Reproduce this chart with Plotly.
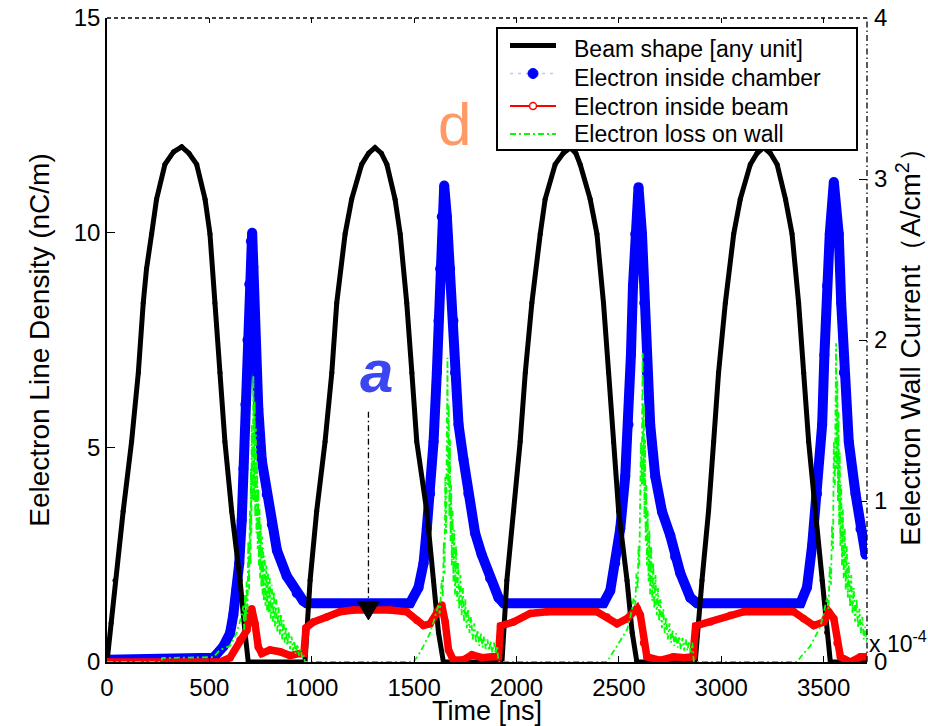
import plotly.graph_objects as go

# ---------------- data ----------------
# Beam shape [any unit] (left axis)
TIME_BEAM = [0, 20, 39, 79, 120, 153, 177, 193, 218, 242, 283, 325, 365, 400, 438, 479, 503, 527, 552, 576, 609, 650, 674, 690,
             967, 992, 1024, 1065, 1098, 1122, 1163, 1195, 1244, 1278, 1309, 1340, 1367, 1407, 1432, 1464, 1489, 1513, 1562, 1595, 1619, 1643,
             1929, 1953, 1986, 2018, 2043, 2075, 2116, 2140, 2189, 2228, 2263, 2290, 2311, 2360, 2393, 2425, 2450, 2474, 2499, 2540, 2565, 2588,
             2873, 2906, 2938, 2963, 2987, 3020, 3061, 3093, 3142, 3175, 3207, 3240, 3273, 3314, 3346, 3378, 3403, 3427, 3460, 3493, 3515, 3533,
             3712]
BEAM_SHAPE = [0, 0.9, 1.9, 3.51, 5.13, 6.74, 8.36, 9.16, 9.97, 10.78, 11.59, 11.88, 12.0, 11.85, 11.59, 10.78, 9.97, 8.36, 6.74, 5.13, 3.51, 1.9, 0.69, 0,
              0, 1.9, 3.51, 5.13, 6.74, 8.36, 9.97, 10.78, 11.59, 11.85, 11.98, 11.85, 11.59, 10.78, 9.97, 8.36, 6.74, 5.13, 3.51, 1.9, 0.69, 0,
              0, 1.9, 3.51, 5.13, 6.74, 8.36, 9.97, 10.78, 11.59, 11.85, 11.98, 11.85, 11.59, 10.78, 9.97, 8.36, 6.74, 5.13, 3.51, 1.9, 0.69, 0,
              0, 1.9, 3.51, 5.13, 6.74, 8.36, 9.97, 10.78, 11.59, 11.85, 11.98, 11.85, 11.59, 10.78, 9.97, 8.36, 6.74, 5.13, 3.51, 1.9, 0.69, 0,
              0]

# Electron inside chamber (nC/m, left axis)
TIME_CHAMBER = [0, 520, 568, 601, 617, 633, 646, 658, 666, 676, 686, 695, 703, 709, 715, 723, 739, 756, 780, 805, 830, 878, 927, 959, 975,
                1480, 1521, 1546, 1562, 1578, 1595, 1611, 1619, 1627, 1635, 1647, 1660, 1676, 1692, 1700, 1717, 1741, 1765, 1798, 1830, 1871, 1912, 1937,
                2425, 2458, 2482, 2507, 2531, 2547, 2559, 2569, 2580, 2596, 2613, 2624, 2637, 2653, 2678, 2711, 2751, 2775, 2800, 2849, 2882,
                3387, 3419, 3444, 3468, 3493, 3504, 3517, 3530, 3550, 3574, 3586, 3599, 3623, 3656, 3680, 3705]
E_CHAMBER = [0.05, 0.1, 0.36, 0.67, 1.1, 1.7, 2.3, 3.3, 4.5, 6.0, 7.5, 8.8, 9.8, 10.0, 9.2, 7.2, 5.9, 4.7, 3.9, 3.2, 2.6, 2.0, 1.6, 1.42, 1.37,
             1.37, 1.73, 2.3, 3.11, 3.92, 5.13, 6.74, 7.95, 9.16, 10.37, 11.1, 10.37, 9.16, 7.95, 6.74, 5.53, 4.72, 3.92, 3.0, 2.5, 1.95, 1.5, 1.37,
             1.37, 1.66, 2.3, 3.11, 4.32, 5.53, 7.15, 8.76, 9.97, 11.06, 9.97, 8.36, 6.74, 5.53, 4.32, 3.5, 2.95, 2.45, 2.07, 1.5, 1.37,
             1.37, 1.74, 2.71, 3.92, 5.53, 7.15, 8.76, 9.97, 11.18, 9.97, 8.36, 6.74, 5.13, 3.92, 3.1, 2.5]

# Electron inside beam (nC/m, left axis)
TIME_INBEAM = [0, 552, 601, 650, 683, 698, 707, 723, 739, 756, 796, 845, 894, 943, 962, 972, 1008, 1073, 1138, 1204, 1285, 1383, 1464,
               1513, 1546, 1578, 1611, 1635, 1652, 1668, 1692, 1741, 1782, 1831, 1880, 1912, 1922, 1985, 2067, 2149, 2393, 2442, 2491,
               2540, 2589, 2605, 2621, 2637, 2702, 2767, 2820, 2862, 2875, 2947, 3045, 3110, 3354, 3403, 3452, 3501, 3525, 3550, 3566,
               3582, 3631, 3680, 3712]
E_INBEAM = [0, 0, 0.1, 0.51, 0.74, 1.2, 1.24, 0.89, 0.35, 0.2, 0.28, 0.24, 0.15, 0.2, 0.2, 0.8, 0.93, 1.05, 1.17, 1.21, 1.22, 1.21, 1.17,
            0.97, 0.85, 0.89, 1.17, 1.33, 0.93, 0.28, 0.04, 0.05, 0.17, 0.1, 0.12, 0.12, 0.84, 0.93, 1.13, 1.17, 1.17, 1.05, 0.89,
            1.01, 1.25, 1.09, 0.44, 0.12, 0.04, 0.12, 0.1, 0.12, 0.84, 0.93, 1.09, 1.17, 1.17, 1.01, 0.85, 0.93, 1.17, 1.01, 0.44,
            0.12, 0.0, 0.12, 0.12]

# Electron loss on wall (units of 1e-4 A/cm^2, right axis) - noisy signal, read as a zig-zag band
TIME_LOSS = [0, 265, 270, 520, 552, 601, 633, 650, 660,
             666, 670, 674, 678, 682, 686, 690, 694, 698, 701, 703, 705, 707, 711, 715,
             718, 721, 724, 727, 730, 733, 736, 739, 742, 745, 748, 751, 754, 757, 760, 763, 766, 770, 774, 778, 782, 786,
             790, 795, 800, 805, 810, 815, 820, 826, 832, 838, 844, 850, 856, 862, 868, 874, 880, 887, 894, 901, 908, 915,
             922, 930, 938, 946, 954, 962, 966,
             1497, 1520, 1546, 1562, 1578, 1595, 1611, 1620, 1625, 1630, 1635, 1640, 1645, 1649, 1652, 1656, 1660, 1663,
             1666, 1669, 1672, 1675, 1678, 1681, 1684, 1688, 1692, 1696, 1700, 1705, 1710, 1715, 1720, 1726, 1732, 1738,
             1744, 1750, 1757, 1764, 1771, 1778, 1786, 1794, 1802, 1810, 1818, 1826, 1834, 1842, 1850, 1858, 1866, 1874,
             1882, 1890, 1898, 1906, 1912,
             2442, 2466, 2491, 2515, 2540, 2556, 2565, 2572, 2580, 2586, 2592, 2596, 2600, 2604, 2608, 2612, 2616,
             2619, 2622, 2625, 2628, 2631, 2634, 2637, 2641, 2645, 2649, 2653, 2658, 2663, 2668, 2673, 2679, 2685, 2691,
             2697, 2703, 2710, 2717, 2724, 2731, 2739, 2747, 2755, 2763, 2771, 2779, 2787, 2795, 2803, 2811, 2819, 2827,
             2835, 2843, 2851, 2859, 2866,
             3370, 3400, 3435, 3460, 3484, 3500, 3510, 3517, 3524, 3530, 3536, 3541, 3546, 3550, 3555, 3561,
             3564, 3567, 3570, 3573, 3576, 3579, 3582, 3586, 3590, 3594, 3598, 3603, 3608, 3613, 3618, 3623, 3629, 3635,
             3641, 3647, 3654, 3661, 3668, 3675, 3682, 3689, 3696, 3703, 3712]
E_LOSS = [0, 0, 0.025, 0.03, 0.075, 0.1, 0.18, 0.25, 0.3,
          0.35, 0.2, 0.42, 0.25, 0.5, 0.3, 0.75, 0.45, 0.94, 0.6, 1.2, 0.8, 1.47, 1.0, 1.78,
          1.0, 1.62, 0.9, 1.45, 0.8, 1.25, 0.7, 1.08, 0.6, 0.95, 0.52, 0.86, 0.46, 0.78, 0.42, 0.71, 0.38, 0.66, 0.35, 0.6, 0.32, 0.55,
          0.3, 0.52, 0.27, 0.48, 0.25, 0.44, 0.22, 0.39, 0.19, 0.34, 0.17, 0.3, 0.14, 0.26, 0.12, 0.22, 0.1, 0.19, 0.08, 0.16, 0.07, 0.13,
          0.05, 0.11, 0.04, 0.08, 0.02, 0.04, 0,
          0, 0.04, 0.1, 0.14, 0.18, 0.25, 0.33, 0.36, 0.3, 0.45, 0.51, 0.4, 0.75, 0.55, 1.15, 0.8, 1.5, 1.89,
          1.1, 1.6, 0.9, 1.38, 0.75, 1.1, 0.6, 0.94, 0.5, 0.82, 0.42, 0.72, 0.38, 0.62, 0.33, 0.54, 0.29, 0.46,
          0.25, 0.39, 0.21, 0.33, 0.18, 0.28, 0.14, 0.24, 0.12, 0.2, 0.1, 0.18, 0.09, 0.16, 0.08, 0.14, 0.07, 0.13,
          0.06, 0.12, 0.05, 0.1, 0,
          0, 0.05, 0.1, 0.15, 0.2, 0.28, 0.33, 0.4, 0.35, 0.55, 0.45, 0.72, 0.6, 1.0, 1.37, 1.1, 1.92,
          1.1, 1.6, 0.9, 1.38, 0.75, 1.1, 0.6, 0.94, 0.5, 0.82, 0.42, 0.72, 0.38, 0.62, 0.33, 0.54, 0.29, 0.46,
          0.25, 0.39, 0.21, 0.33, 0.18, 0.28, 0.14, 0.24, 0.12, 0.2, 0.1, 0.18, 0.09, 0.16, 0.08, 0.15, 0.07, 0.14,
          0.07, 0.13, 0.06, 0.12, 0,
          0, 0.05, 0.1, 0.16, 0.22, 0.3, 0.36, 0.4, 0.33, 0.6, 0.48, 0.85, 0.7, 1.37, 1.1, 1.98,
          1.2, 1.75, 1.0, 1.55, 0.85, 1.3, 0.72, 1.1, 0.6, 0.95, 0.52, 0.83, 0.45, 0.72, 0.4, 0.62, 0.34, 0.54,
          0.3, 0.46, 0.25, 0.39, 0.21, 0.33, 0.18, 0.28, 0.14, 0.22, 0.12]

SERIES_NAMES = ["Beam shape [any unit]", "Electron inside chamber", "Electron inside beam", "Electron loss on wall"]
X_TICKS = [0, 500, 1000, 1500, 2000, 2500, 3000, 3500]
Y_TICKS = [0, 5, 10, 15]
Y2_TICKS = [0, 1, 2, 3, 4]
X_RANGE = [0, 3712]

FONT = "Liberation Sans, Arial, Helvetica, sans-serif"
W, H = 928, 726
ML, MR, MT, MB = 107, 61, 18, 64
PW, PH = W - ML - MR, H - MT - MB


def PX(x):
    return (x - ML) / PW


def PY(y):
    return (H - MB - y) / PH


fig = go.Figure()

fig.add_trace(go.Scatter(x=TIME_CHAMBER, y=E_CHAMBER, mode="lines+markers", name=SERIES_NAMES[1],
                         line=dict(color="#0000ff", width=10), marker=dict(color="#0000ff", size=10),
                         showlegend=False, hoverinfo="skip"))
fig.add_trace(go.Scatter(x=TIME_BEAM, y=BEAM_SHAPE, mode="lines+markers", name=SERIES_NAMES[0],
                         line=dict(color="#000000", width=5), marker=dict(color="#000000", size=5),
                         showlegend=False, hoverinfo="skip"))
fig.add_trace(go.Scatter(x=TIME_INBEAM, y=E_INBEAM, mode="lines+markers", name=SERIES_NAMES[2],
                         line=dict(color="#ff0000", width=7.5), marker=dict(color="#ff0000", size=7.5),
                         showlegend=False, hoverinfo="skip"))
fig.add_trace(go.Scatter(x=TIME_LOSS, y=E_LOSS, mode="lines", name=SERIES_NAMES[3], yaxis="y2",
                         line=dict(color="#00ff00", width=1.8, dash="6px,3px,2px,3px"),
                         showlegend=False, hoverinfo="skip"))
# dummy trace to carry the top (mirrored) tick axis
fig.add_trace(go.Scatter(x=[None], y=[None], xaxis="x2", showlegend=False, hoverinfo="skip"))

fig.update_layout(
    width=W, height=H,
    margin=dict(l=ML, r=MR, t=MT, b=MB, autoexpand=False),
    paper_bgcolor="white", plot_bgcolor="white",
    font=dict(family=FONT, color="black"),
    showlegend=False,
    xaxis=dict(range=X_RANGE, tickvals=X_TICKS, ticks="inside", ticklen=6, tickwidth=1, tickcolor="black",
               showline=True, linecolor="black", linewidth=1.5, showgrid=False, zeroline=False,
               automargin=False, tickfont=dict(size=24, family=FONT), ticklabelstandoff=3,
               title=dict(text="Time [ns]", font=dict(size=27, family=FONT), standoff=3)),
    xaxis2=dict(range=X_RANGE, tickvals=X_TICKS, overlaying="x", side="top", ticks="inside", ticklen=5,
                tickcolor="black", showticklabels=False, showline=False, showgrid=False, zeroline=False,
                automargin=False),
    yaxis=dict(range=[0, 15], tickvals=Y_TICKS, ticks="inside", ticklen=8, tickwidth=1, tickcolor="black",
               showline=True, linecolor="black", linewidth=1.5, showgrid=False, zeroline=False,
               automargin=False, tickfont=dict(size=24, family=FONT),
               title=dict(text="Eelectron Line Density (nC/m)", font=dict(size=28, family=FONT), standoff=16)),
    yaxis2=dict(range=[0, 4], tickvals=Y2_TICKS, overlaying="y", side="right", ticks="inside", ticklen=8,
                tickwidth=1, tickcolor="black", showline=False, showgrid=False, zeroline=False,
                automargin=False, tickfont=dict(size=24, family=FONT), ticklabelstandoff=6,
                title=dict(text="Eelectron Wall Current（A/cm<sup>2</sup>）", font=dict(size=28, family=FONT), standoff=14)),
)

shapes = []
# top and right borders (second axes, broken line styles)
shapes.append(dict(type="line", xref="paper", yref="paper", x0=0, x1=1, y0=1, y1=1,
                   line=dict(color="black", width=1.3, dash="4px,3px")))
shapes.append(dict(type="line", xref="paper", yref="paper", x0=1, x1=1, y0=0, y1=1,
                   line=dict(color="black", width=1.3, dash="6px,3px,1.5px,3px")))

# arrow under the "a" label
shapes.append(dict(type="line", xref="x", yref="y", x0=1277, x1=1277, y0=5.83, y1=1.35,
                   line=dict(color="black", width=1.3, dash="6px,3px,1.5px,3px")))
shapes.append(dict(type="path", xref="x", yref="y", path="M 1224,1.41 L 1330,1.41 L 1277,0.98 Z",
                   fillcolor="black", line=dict(color="black", width=1)))

# legend box
shapes.append(dict(type="rect", xref="paper", yref="paper", x0=PX(497), x1=PX(857), y0=PY(150), y1=PY(28),
                   fillcolor="white", line=dict(color="black", width=2)))
# legend samples
shapes.append(dict(type="line", xref="paper", yref="paper", x0=PX(510), x1=PX(556), y0=PY(45.5), y1=PY(45.5),
                   line=dict(color="black", width=5)))
shapes.append(dict(type="line", xref="paper", yref="paper", x0=PX(510), x1=PX(556), y0=PY(73.5), y1=PY(73.5),
                   line=dict(color="#c0c6ff", width=1.5, dash="3px,5px")))
shapes.append(dict(type="circle", xref="paper", yref="paper", xsizemode="pixel", ysizemode="pixel",
                   xanchor=PX(533), yanchor=PY(73.5), x0=-5, x1=5, y0=-5, y1=5,
                   fillcolor="#0000ff", line=dict(color="#0000ff", width=1)))
shapes.append(dict(type="line", xref="paper", yref="paper", x0=PX(510), x1=PX(556), y0=PY(106), y1=PY(106),
                   line=dict(color="#ff0000", width=2)))
shapes.append(dict(type="circle", xref="paper", yref="paper", xsizemode="pixel", ysizemode="pixel",
                   xanchor=PX(533), yanchor=PY(106), x0=-3.5, x1=3.5, y0=-3.5, y1=3.5,
                   fillcolor="white", line=dict(color="#ff0000", width=1.5)))
shapes.append(dict(type="line", xref="paper", yref="paper", x0=PX(510), x1=PX(556), y0=PY(134), y1=PY(134),
                   line=dict(color="#00ff00", width=2, dash="6px,3px,2px,3px")))
fig.update_layout(shapes=shapes)

annotations = []
for name, yc in zip(SERIES_NAMES, [49, 78, 106.5, 133.5]):
    annotations.append(dict(text=name, xref="paper", yref="paper", x=PX(572), y=PY(yc),
                            xanchor="left", yanchor="middle", showarrow=False,
                            font=dict(size=23, family=FONT, color="black")))
annotations.append(dict(text="<b><i>a</i></b>", xref="x", yref="y", x=1317, y=6.76, xanchor="center",
                        yanchor="middle", showarrow=False, font=dict(size=60, family=FONT, color="#3c46f0")))
annotations.append(dict(text="d", xref="x", yref="y", x=1695, y=12.53, xanchor="center",
                        yanchor="middle", showarrow=False, font=dict(size=60, family=FONT, color="#ff9966")))
annotations.append(dict(text="x 10<sup>-4</sup>", xref="paper", yref="paper", x=PX(867), y=PY(659),
                        xanchor="left", yanchor="bottom", showarrow=False,
                        font=dict(size=23, family=FONT, color="black")))
fig.update_layout(annotations=annotations)

fig.write_html("out.html")
